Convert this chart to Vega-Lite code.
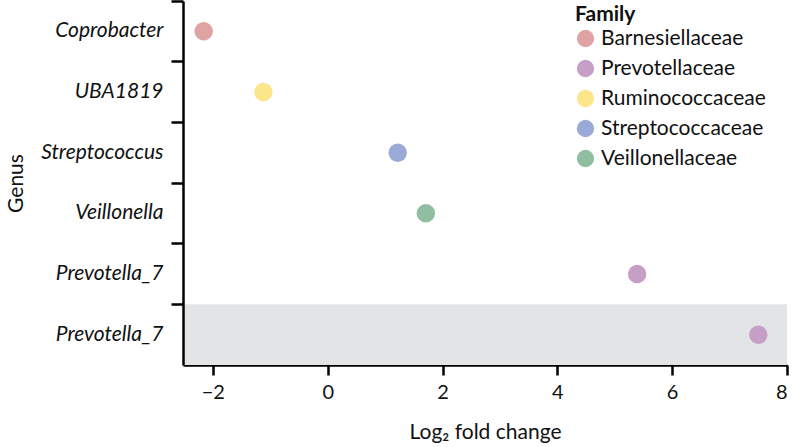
{
  "$schema": "https://vega.github.io/schema/vega-lite/v6.json",
  "width": 604,
  "height": 364,
  "autosize": {"type": "none"},
  "padding": {"left": 183, "top": 1, "right": 5, "bottom": 82},
  "background": "white",
  "config": {
    "view": {"stroke": null},
    "font": "Lato"
  },
  "layer": [
    {
      "data": {"values": [{"genus": "Prevotella_7#2"}]},
      "mark": {"type": "rect", "color": "#E3E4E6"},
      "encoding": {
        "y": {"field": "genus", "type": "nominal", "sort": ["Coprobacter", "UBA1819", "Streptococcus", "Veillonella", "Prevotella_7#1", "Prevotella_7#2"]}
      }
    },
    {
      "data": {"values": [
        {"genus": "Coprobacter", "family": "Barnesiellaceae", "lfc": -2.16},
        {"genus": "UBA1819", "family": "Ruminococcaceae", "lfc": -1.12},
        {"genus": "Streptococcus", "family": "Streptococcaceae", "lfc": 1.22},
        {"genus": "Veillonella", "family": "Veillonellaceae", "lfc": 1.71},
        {"genus": "Prevotella_7#1", "family": "Prevotellaceae", "lfc": 5.39},
        {"genus": "Prevotella_7#2", "family": "Prevotellaceae", "lfc": 7.5}
      ]},
      "mark": {"type": "circle", "size": 340, "opacity": 1},
      "encoding": {
        "x": {
          "field": "lfc", "type": "quantitative",
          "scale": {"domain": [-2.52, 8], "nice": false, "zero": false},
          "axis": {
            "values": [-2, 0, 2, 4, 6, 8],
            "title": "Log₂ fold change",
            "titleFont": "Lato", "titleFontSize": 21, "titleFontWeight": "normal", "titleColor": "#111",
            "titlePadding": 19,
            "labelFont": "Lato", "labelFontSize": 20, "labelColor": "#111", "labelPadding": 7,
            "domainColor": "#000", "domainWidth": 2.5,
            "tickColor": "#000", "tickWidth": 2.5, "tickSize": 10,
            "grid": false
          }
        },
        "y": {
          "field": "genus", "type": "nominal",
          "sort": ["Coprobacter", "UBA1819", "Streptococcus", "Veillonella", "Prevotella_7#1", "Prevotella_7#2"],
          "scale": {"paddingInner": 0, "paddingOuter": 0},
          "axis": {
            "title": "Genus",
            "titleFont": "Lato", "titleFontSize": 21, "titleFontWeight": "normal", "titleColor": "#111",
            "titlePadding": 14,
            "labelExpr": "split(datum.label, '#')[0]",
            "labelFont": "Lato", "labelFontSize": 21, "labelFontStyle": "italic", "labelColor": "#111",
            "labelPadding": 8, "labelLimit": 0,
            "bandPosition": 0,
            "domainColor": "#000", "domainWidth": 2.5,
            "tickColor": "#000", "tickWidth": 2.5, "tickSize": 12,
            "grid": false
          }
        },
        "color": {
          "field": "family", "type": "nominal",
          "scale": {
            "domain": ["Barnesiellaceae", "Prevotellaceae", "Ruminococcaceae", "Streptococcaceae", "Veillonellaceae"],
            "range": ["#E0A3A3", "#C59FC5", "#FCE68C", "#9AA9D8", "#8FBFA0"]
          },
          "legend": {
            "title": "Family",
            "orient": "none",
            "legendX": 392,
            "legendY": 3,
            "titleFont": "Lato", "titleFontSize": 21, "titleFontWeight": "bold", "titleColor": "#111",
            "titlePadding": 3,
            "labelFont": "Lato", "labelFontSize": 21, "labelColor": "#111", "labelLimit": 0,
            "symbolType": "circle", "symbolSize": 300, "symbolOpacity": 1,
            "rowPadding": 8, "labelOffset": 5
          }
        }
      }
    }
  ]
}
